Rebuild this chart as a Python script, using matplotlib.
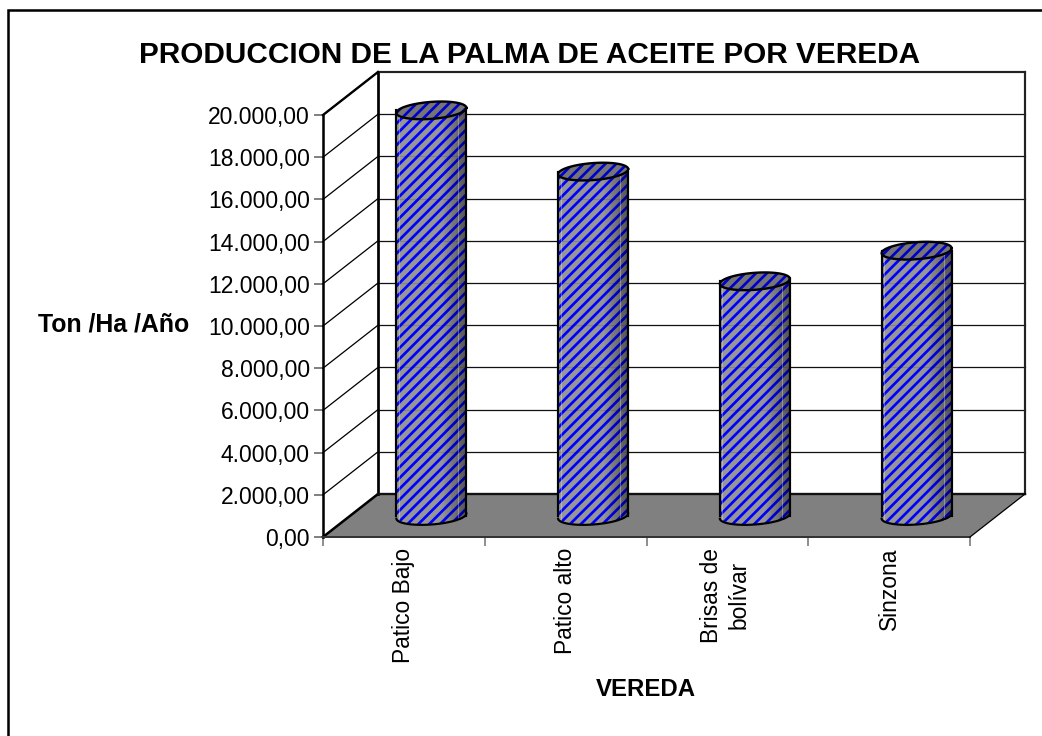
"""Produccion de la palma de aceite por vereda -- pseudo 3D cylinder chart."""

import matplotlib

matplotlib.use("Agg")
import matplotlib.pyplot as plt
import numpy as np
from matplotlib.lines import Line2D
from matplotlib.ticker import FuncFormatter

veredas = ["Patico Bajo", "Patico alto", "Brisas de\nbolívar", "Sinzona"]
produccion = [19200, 16300, 11100, 12550]
y_ticks = list(range(0, 20001, 2000))

W, H, DPI = 1042, 736, 130
plt.rcParams["font.family"] = ["Liberation Sans", "DejaVu Sans"]
plt.rcParams["hatch.linewidth"] = 1.5

# pixel box of the front plane
LEFT, RIGHT, TOP, BOTTOM = 323, 970, 115, 537
PX = len(veredas) / (RIGHT - LEFT)
PY = 20000 / (BOTTOM - TOP)
DX, DY = 55 * PX, 43 * PY  # depth of the 3D box in data units
HATCH = "////"


def fmt(v, _pos=None):
	s = f"{v:,.2f}"
	return s.replace(",", "#").replace(".", ",").replace("#", ".")


def cylinder(ax, cx, val):
	a = 35 * PX  # half width
	b = 8.5 * PY  # half height of the ellipse
	tilt = 2.5 * PY
	base = DY / 2 - 0.5 * PY
	t = np.linspace(0, 2 * np.pi, 120)
	ex = a * np.cos(t)
	ey = b * np.sin(t) + tilt * np.cos(t)
	top = val + DY / 2
	# body: lower half of base ellipse + lower half of top ellipse
	low = (t >= np.pi)
	lx, ly = ex[low], ey[low]
	xs = np.r_[cx + lx, cx + lx[::-1]]
	ys = np.r_[base + ly, top + ly[::-1]]
	ax.fill(xs, ys, facecolor="#969696", edgecolor="#0000ff", hatch=HATCH, lw=0, zorder=5, clip_on=False)

	# shading across the width, darker to the right
	edges = np.linspace(0.3 * a, a, 15)
	for e0, e1 in zip(edges[:-1], edges[1:]):
		u = (e0 + e1) / 2 / a
		mid_low = -b * np.sqrt(1 - u * u) + tilt * u
		alpha = 0.45 * (u - 0.3) / 0.7
		ax.fill_between([cx + e0, cx + e1], base + mid_low, top + mid_low, color="black", alpha=alpha, lw=0, zorder=6, clip_on=False)

	# faint highlight lines and grid seen through the bar
	for off in (-a * 0.93, a * 0.77):
		ax.plot([cx + off] * 2, [base - b * 0.5, top - b * 0.5], color="white", alpha=0.3, lw=0.6, zorder=7, clip_on=False)
	for v in y_ticks[1:]:
		if v + DY < top:
			ax.plot([cx - a, cx + a], [v + DY, v + DY], color="black", alpha=0.12, lw=0.6, zorder=7, clip_on=False)

	# outline
	ax.plot(xs[:len(lx)], ys[:len(lx)], color="black", lw=1.2, zorder=8, clip_on=False)
	ax.plot([cx - a, cx - a], [base, top], color="black", lw=1.2, zorder=8, clip_on=False)
	ax.plot([cx + a, cx + a], [base, top], color="black", lw=1.2, zorder=8, clip_on=False)

	# top cap
	ax.fill(cx + ex, top + ey, facecolor="#808080", edgecolor="#0000e0", hatch=HATCH, lw=0, zorder=9, clip_on=False)
	ax.fill(cx + ex, top + ey, facecolor="black", alpha=0.08, lw=0, zorder=10, clip_on=False)
	ax.plot(cx + ex, top + ey, color="black", lw=1.3, zorder=11, clip_on=False)


fig = plt.figure(figsize=(W / DPI, H / DPI), dpi=DPI, facecolor="white")
ax = fig.add_axes([LEFT / W, 1 - BOTTOM / H, (RIGHT - LEFT) / W, (BOTTOM - TOP) / H])
ax.set_xlim(0, len(veredas))
ax.set_ylim(0, 20000)
ax.patch.set_visible(False)

# outer chart frame: only left and top edges are inside the picture
fig.add_artist(Line2D([7.5 / W, 7.5 / W, 1], [0, 1 - 9.5 / H, 1 - 9.5 / H], transform=fig.transFigure,
	color="black", lw=1.4, solid_joinstyle="miter"))

n = len(veredas)
# floor
ax.fill([0, n, n + DX, DX], [0, 0, DY, DY], color="#808080", lw=0, zorder=1, clip_on=False)

# back wall and side wall grid lines
for v in y_ticks[1:]:
	col = "#666666" if v == 20000 else "#111111"
	lw = 1.0 if v == 20000 else 0.7
	ax.plot([DX, n + DX], [v + DY, v + DY], color=col, lw=lw, zorder=2, clip_on=False)
for v in y_ticks:
	ax.plot([0, DX], [v, v + DY], color="black", lw=0.7 if v else 1.4, zorder=2, clip_on=False)

# box edges
ax.plot([DX, DX], [DY, 20000 + DY], color="black", lw=1.5, zorder=3, clip_on=False)
ax.plot([n + DX, n + DX], [DY, 20000 + DY], color="#222222", lw=1.2, zorder=3, clip_on=False)
ax.plot([DX, n + DX], [20000 + DY, 20000 + DY], color="#222222", lw=1.2, zorder=3, clip_on=False)
ax.plot([0, DX], [20000, 20000 + DY], color="black", lw=1.3, zorder=3, clip_on=False)
ax.plot([DX, n + DX], [DY, DY], color="#111111", lw=1.3, zorder=3, clip_on=False)
ax.plot([n, n + DX], [0, DY], color="black", lw=0.7, zorder=3, clip_on=False)

for i, val in enumerate(produccion):
	cylinder(ax, i + 0.5 + DX / 2, val)

for s in ("top", "right"):
	ax.spines[s].set_visible(False)
ax.spines["left"].set_linewidth(1.4)
ax.spines["bottom"].set_linewidth(1.1)
ax.spines["bottom"].set_color("#333333")

ax.set_yticks(y_ticks)
ax.yaxis.set_major_formatter(FuncFormatter(fmt))
ax.tick_params(axis="y", labelsize=12.7, length=4.8, width=0.9, pad=2.5, color="#666666")
ax.set_xticks(range(n + 1))
ax.tick_params(axis="x", length=4.8, width=0.9, labelbottom=False, color="#777777")
for i, name in enumerate(veredas):
	ax.annotate(name, (i + 0.5, 0), xytext=(-1 if "\n" in name else 0, -6), textcoords="offset points", rotation=90,
		ha="center", va="top", fontsize=12.6, multialignment="center", linespacing=1.25)

fig.text(530 / W, 1 - 55 / H, "PRODUCCION DE LA PALMA DE ACEITE POR VEREDA", ha="center", va="center",
	fontsize=16.5, fontweight="bold")
fig.text(114 / W, 1 - 324 / H, "Ton /Ha /Año", ha="center", va="center", fontsize=13.8, fontweight="bold")
fig.text(646 / W, 1 - 689 / H, "VEREDA", ha="center", va="center", fontsize=13.3, fontweight="bold")

fig.savefig("out.png", dpi=DPI)
